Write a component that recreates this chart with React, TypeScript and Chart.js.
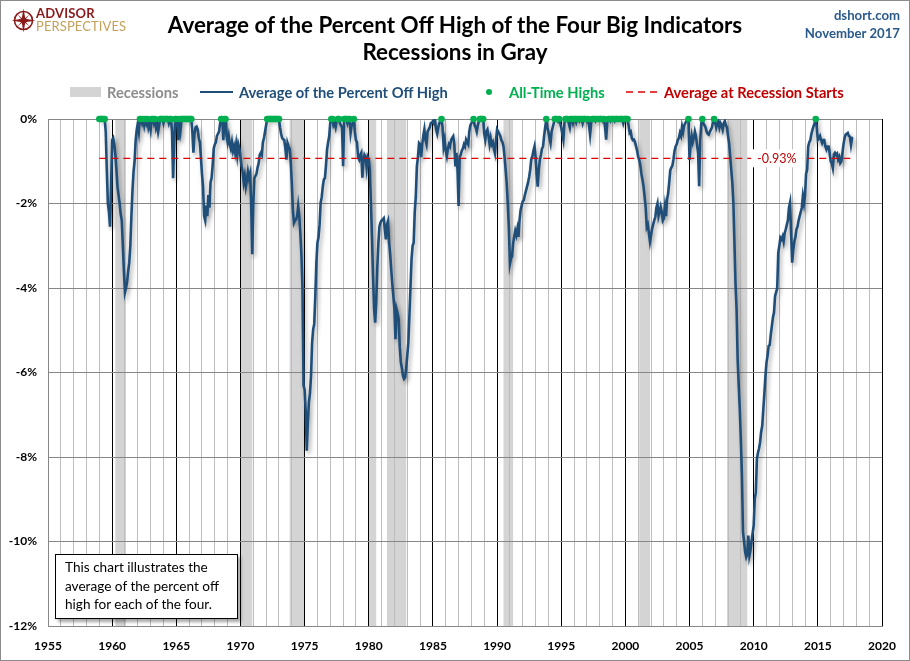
import React, { useEffect, useRef } from "react";
import { Chart, registerables } from "chart.js";

Chart.register(...registerables);

// ---------- data ----------
const startYear = 1959; // first monthly observation: January 1959
// Average of the percent off high of the four big indicators (monthly, %)
const pctOffHigh: number[] = [
  // 1959
  0, 0, 0, 0, 0, 0, -0.3, -1.2, -2.0, -2.2, -2.55, -1.6,
  // 1960
  -0.5, -0.45, -0.6, -0.85, -1.2, -1.6, -1.8, -2.0, -2.25, -2.4, -3.0, -3.6,
  // 1961
  -4.1, -4.0, -3.85, -3.6, -3.4, -3.0, -2.3, -1.7, -1.25, -1.0, -0.5, -0.25,
  // 1962
  -0.1, -0.3, 0, 0, -0.1, 0, -0.15, 0, -0.1, 0, -0.2, -0.1,
  // 1963
  -0.25, 0, 0, -0.1, 0, -0.2, -0.1, -0.3, -0.15, 0, 0, 0,
  // 1964
  -0.1, 0, 0, 0, 0, -0.1, 0, 0, -0.3, -1.4, -0.6, 0,
  // 1965
  0, -0.1, -0.5, 0, -0.25, 0, 0, 0, 0, 0, 0, 0,
  // 1966
  0, 0, 0, -0.3, -0.8, -0.35, -0.2, -0.18, -0.25, -0.45, -0.55, -0.9,
  // 1967
  -1.3, -1.6, -2.3, -2.4, -2.05, -2.3, -1.8, -2.1, -1.5, -1.4, -1.1, -0.7,
  // 1968
  -0.6, -0.55, -0.4, -0.35, -0.3, -0.1, 0, 0, -0.5, 0, 0, -0.4,
  // 1969
  -0.55, -0.4, -0.6, -0.7, -0.55, -0.75, -0.65, -0.8, -0.6, -0.85, -0.6, -0.7,
  // 1970
  -0.9, -1.1, -1.25, -1.5, -1.35, -1.6, -1.45, -1.25, -1.4, -1.3, -2.0, -3.2,
  // 1971
  -2.0, -1.4, -1.35, -1.3, -1.15, -1.05, -0.85, -0.8, -0.85, -0.55, -0.45, -0.3,
  // 1972
  -0.15, 0, 0, 0, 0, 0, 0, 0, 0, 0, 0, 0,
  // 1973
  0, -0.2, -0.35, -0.45, -0.48, -0.5, -0.7, -0.96, -0.57, -0.65, -0.7, -1.0,
  // 1974
  -1.5, -2.14, -2.46, -2.4, -2.38, -2.3, -2.06, -2.3, -2.7, -3.2, -4.0, -6.31,
  // 1975
  -6.4, -6.9, -7.85, -7.2, -6.7, -6.5, -6.08, -5.3, -4.98, -4.85, -4.2, -3.4,
  // 1976
  -2.93, -2.8, -2.5, -1.98, -1.85, -1.6, -1.43, -1.4, -1.1, -0.72, -0.55, -0.41,
  // 1977
  -0.09, 0, 0, -0.15, -0.1, -0.2, -0.05, 0, 0, -0.1, -0.15, -0.2,
  // 1978
  -1.12, 0, 0, 0, -0.1, 0, 0, -0.33, -0.15, -0.1, 0, -0.3,
  // 1979
  -0.5, -0.55, -0.9, -0.96, -0.85, -0.8, -1.39, -1.0, -0.85, -0.9, -1.15, -0.9,
  // 1980
  -0.96, -1.2, -1.98, -2.8, -3.72, -4.5, -4.82, -4.3, -3.5, -2.93, -2.54, -2.45,
  // 1981
  -2.4, -2.38, -2.35, -2.6, -2.85, -2.5, -2.42, -2.9, -3.2, -3.56, -3.9, -4.19,
  // 1982
  -4.5, -5.21, -4.5, -4.6, -4.74, -5.4, -5.76, -5.9, -6.08, -6.15, -6.12, -5.9,
  // 1983
  -5.6, -5.3, -4.66, -4.0, -3.32, -3.0, -2.93, -2.2, -1.83, -1.12, -0.9, -0.57,
  // 1984
  -0.6, -0.9, -0.6, -0.4, -0.25, -0.5, -0.6, -0.3, -0.25, -0.2, -0.1, -0.09,
  // 1985
  -0.05, -0.1, -0.03, -0.25, -0.35, -0.2, -0.1, -0.05, 0, -0.2, -0.65, -0.5,
  // 1986
  -0.75, -0.88, -0.7, -0.6, -0.65, -0.5, -0.45, -0.41, -0.6, -1.12, -0.8, -1.2,
  // 1987
  -2.06, -0.9, -0.85, -0.75, -0.7, -0.6, -0.65, -0.49, -0.55, -0.6, -0.3, -0.15,
  // 1988
  -0.1, -0.05, 0, -0.15, -0.2, -0.3, -0.15, -0.05, 0, 0, 0, 0,
  // 1989
  -0.35, -0.49, -0.3, -0.25, -0.4, -0.6, -0.45, -0.6, -0.55, -0.7, -0.81, -0.5,
  // 1990
  -0.25, -0.3, -0.35, -0.4, -0.5, -0.55, -0.65, -0.9, -1.2, -1.52, -2.0, -2.56,
  // 1991
  -3.43, -3.3, -3.25, -2.95, -2.79, -2.65, -2.75, -2.6, -2.79, -2.4, -2.16, -2.05,
  // 1992
  -1.95, -1.92, -1.8, -1.7, -1.6, -1.5, -1.37, -1.2, -0.95, -0.89, -0.75, -0.65,
  // 1993
  -0.9, -1.3, -1.6, -1.2, -0.97, -0.85, -0.7, -0.65, -0.4, -0.2, 0, -0.2,
  // 1994
  -0.3, -0.45, -0.57, -0.3, -0.2, -0.1, 0, 0, 0, -0.05, 0, -0.1,
  // 1995
  -0.2, -0.35, -0.49, -0.1, 0, 0, 0, -0.1, -0.2, 0, 0, -0.1,
  // 1996
  0, 0, -0.08, 0, 0, -0.05, 0, 0, -0.1, 0, 0, 0,
  // 1997
  -0.05, 0, -0.15, -0.37, -0.1, 0, 0, 0, -0.05, 0, 0, -0.03,
  // 1998
  0, 0, 0, -0.05, 0, -0.2, -0.49, -0.1, 0, 0, -0.05, 0,
  // 1999
  0, 0, -0.05, 0, 0, 0, -0.03, 0, 0, 0, -0.1, 0,
  // 2000
  0, 0, 0, -0.15, -0.33, -0.3, -0.45, -0.5, -0.49, -0.55, -0.65, -0.75,
  // 2001
  -0.9, -0.97, -1.1, -1.3, -1.44, -1.6, -1.84, -2.1, -2.56, -2.5, -2.7, -2.9,
  // 2002
  -2.75, -2.6, -2.5, -2.4, -2.32, -2.1, -2.0, -2.3, -2.2, -2.08, -2.2, -2.4,
  // 2003
  -2.35, -2.08, -2.3, -1.9, -1.76, -1.5, -1.21, -1.15, -1.1, -0.95, -0.75, -0.65,
  // 2004
  -0.6, -0.5, -0.45, -0.33, -0.4, -0.18, -0.3, -0.15, -0.1, -0.05, -0.03, 0,
  // 2005
  -0.97, -0.6, -0.4, -0.55, -0.45, -0.3, -0.41, -0.6, -0.8, -1.59, -0.5, -0.1,
  // 2006
  0, -0.1, -0.15, -0.2, -0.3, -0.35, -0.37, -0.3, -0.25, -0.2, -0.05, 0,
  // 2007
  -0.1, -0.2, -0.1, -0.05, -0.2, -0.1, -0.15, -0.25, -0.1, -0.05, -0.15, -0.2,
  // 2008
  -0.4, -0.57, -0.88, -1.2, -1.5, -1.98, -2.93, -3.9, -4.5, -5.69, -6.3, -6.87,
  // 2009
  -7.6, -8.44, -9.78, -10.0, -10.25, -10.37, -10.3, -9.86, -10.33, -10.2, -10.0, -9.8,
  // 2010
  -9.62, -9.0, -8.83, -8.05, -7.9, -7.8, -7.65, -7.4, -7.26, -6.87, -6.5, -6.08,
  // 2011
  -5.76, -5.6, -5.37, -5.35, -5.1, -4.9, -4.7, -4.58, -4.19, -4.1, -4.0, -3.17,
  // 2012
  -3.0, -2.81, -2.85, -2.78, -2.9, -2.7, -2.61, -2.5, -2.4, -2.1, -1.98, -2.7,
  // 2013
  -3.4, -3.1, -2.9, -2.8, -2.61, -2.55, -2.4, -2.3, -2.2, -2.1, -1.83, -2.0,
  // 2014
  -1.8, -1.3, -1.2, -0.65, -0.55, -0.5, -0.35, -0.25, -0.17, -0.1, 0, -0.2,
  // 2015
  -0.49, -0.45, -0.4, -0.5, -0.57, -0.5, -0.5, -0.65, -0.72, -0.65, -0.65, -0.8,
  // 2016
  -1.0, -1.04, -1.16, -0.84, -0.8, -0.85, -0.82, -0.96, -0.9, -1.04, -1.0, -0.8,
  // 2017
  -0.6, -0.45, -0.37, -0.35, -0.33, -0.4, -0.42, -0.61, -0.45, -0.45,
];

// NBER recessions (start, end) in decimal years
const recessions: [number, number][] = [
  [1960.25, 1961.08],
  [1970.0, 1970.92],
  [1973.83, 1975.0],
  [1980.0, 1980.58],
  [1981.42, 1982.92],
  [1990.5, 1991.25],
  [2001.08, 2001.92],
  [2007.92, 2009.5],
];

const avgAtRecessionStart = -0.93;
const avgLineRange: [number, number] = [1959, 2017.75];
const avgLabelYear = 2011.8;

const xMin = 1955;
const xMax = 2020;
const yMin = -12;
const yMax = 0;

// ---------- colours ----------
const BLUE = "#1f4e79";
const GREEN = "#00b050";
const RED = "#e00000";
const DARKRED = "#c00000";
const BAND = "#d4d4d4";
const FONT = "Lato, 'Open Sans', sans-serif";

const bandPlugin = {
  id: "recessionBands",
  beforeDraw(chart: any) {
    const { ctx, chartArea, scales } = chart;
    ctx.save();
    ctx.fillStyle = BAND;
    for (const [a, b] of recessions) {
      const x1 = scales.x.getPixelForValue(a);
      const x2 = scales.x.getPixelForValue(b);
      ctx.fillRect(x1, chartArea.top, x2 - x1, chartArea.bottom - chartArea.top);
    }
    ctx.restore();
  },
};

const shadowPlugin = {
  id: "lineShadow",
  beforeDatasetDraw(chart: any, args: any) {
    if (args.index === 0) {
      const ctx = chart.ctx;
      ctx.save();
      ctx.shadowColor = "rgba(0,0,0,0.35)";
      ctx.shadowBlur = 4;
      ctx.shadowOffsetX = 2;
      ctx.shadowOffsetY = 3;
    }
  },
  afterDatasetDraw(chart: any, args: any) {
    if (args.index === 0) chart.ctx.restore();
  },
};

const labelPlugin = {
  id: "avgLabel",
  afterDatasetsDraw(chart: any) {
    const { ctx, scales } = chart;
    const x = scales.x.getPixelForValue(avgLabelYear);
    const y = scales.y.getPixelForValue(avgAtRecessionStart);
    const text = avgAtRecessionStart.toFixed(2) + "%";
    ctx.save();
    ctx.font = "12.5px " + FONT;
    const w = ctx.measureText(text).width;
    ctx.fillStyle = "#ffffff";
    ctx.fillRect(x - w / 2 - 6, y - 9, w + 12, 18);
    ctx.fillStyle = DARKRED;
    ctx.textAlign = "center";
    ctx.textBaseline = "middle";
    ctx.fillText(text, x, y + 0.5);
    ctx.restore();
  },
};

function ChartCanvas() {
  const ref = useRef<HTMLCanvasElement | null>(null);
  useEffect(() => {
    if (!ref.current) return;
    Chart.defaults.font.family = FONT;
    const lineData = pctOffHigh.map((v, i) => ({ x: startYear + i / 12, y: v }));
    const highs = lineData.filter((p) => p.y === 0);
    const tickFont = { family: FONT, size: 12, weight: "bold" as const };
    const chart = new Chart(ref.current, {
      type: "line",
      data: {
        datasets: [
          {
            label: "Average of the Percent Off High",
            data: lineData,
            borderColor: BLUE,
            borderWidth: 2.6,
            pointRadius: 0,
            tension: 0,
            order: 2,
          } as any,
          {
            label: "Average at Recession Starts",
            data: avgLineRange.map((x) => ({ x, y: avgAtRecessionStart })),
            borderColor: RED,
            borderWidth: 1.3,
            borderDash: [7, 5],
            pointRadius: 0,
            order: 1,
          },
          {
            label: "All-Time Highs",
            type: "scatter",
            data: highs,
            backgroundColor: GREEN,
            borderColor: GREEN,
            borderWidth: 0,
            pointRadius: 3.3,
            showLine: false,
            clip: false,
            order: 0,
          } as any,
        ],
      },
      options: {
        responsive: false,
        animation: false,
        layout: { padding: { top: 119, right: 28, left: 0, bottom: 0 } },
        plugins: {
          legend: { display: false },
          tooltip: { enabled: false },
          title: { display: false },
        },
        scales: {
          x: {
            type: "linear",
            min: xMin,
            max: xMax,
            afterFit: (s: any) => {
              s.height = 35;
            },
            ticks: {
              stepSize: 1,
              autoSkip: false,
              maxRotation: 0,
              minRotation: 0,
              padding: 13,
              color: "#000",
              font: tickFont,
              callback: (v: any) => {
                const r = Math.round(Number(v));
                return r % 5 === 0 ? String(r) : "";
              },
            },
            grid: {
              drawTicks: false,
              lineWidth: 1,
              color: (c: any) => {
                const r = Math.round(c.tick?.value ?? 0);
                if (r === xMin) return "#a0a0a0";
                return r % 5 === 0 ? "#000000" : "#bdbdbd";
              },
            },
            border: { color: "#878787" },
          },
          y: {
            min: yMin,
            max: yMax,
            afterFit: (s: any) => {
              s.width = 48;
            },
            ticks: {
              stepSize: 2,
              padding: 11,
              color: "#000",
              font: tickFont,
              callback: (v: any) => Math.round(Number(v)) + "%",
            },
            grid: { drawTicks: false, color: "#878787", lineWidth: 1 },
            border: { color: "#878787" },
          },
        },
      },
      plugins: [bandPlugin, shadowPlugin, labelPlugin],
    });
    return () => chart.destroy();
  }, []);
  return (
    <canvas
      ref={ref}
      width={910}
      height={661}
      style={{ position: "absolute", left: 0, top: 0, width: 910, height: 661 }}
    />
  );
}

const abs = (s: React.CSSProperties): React.CSSProperties => ({ position: "absolute", ...s });

export default function App() {
  const legendText: React.CSSProperties = {
    fontFamily: FONT,
    fontWeight: 700,
    fontSize: 14.7,
    lineHeight: "16px",
    whiteSpace: "nowrap",
  };
  return (
    <div
      style={{
        position: "absolute",
        left: 0,
        top: 0,
        width: 910,
        height: 661,
        background: "#ffffff",
        overflow: "hidden",
        fontFamily: FONT,
      }}
    >
      <ChartCanvas />
      {/* outer frame */}
      <div style={abs({ left: 0, top: 0, width: 910, height: 661, boxSizing: "border-box", border: "1px solid #8c8c8c", pointerEvents: "none" })} />

      {/* logo */}
      <svg style={abs({ left: 11, top: 8 })} width={25} height={25} viewBox="0 0 25 25">
        <circle cx={12.5} cy={12.5} r={9} fill="none" stroke="#8b1a1a" strokeWidth={1.6} />
        <polygon points="12.5,0.5 14.3,10.7 24.5,12.5 14.3,14.3 12.5,24.5 10.7,14.3 0.5,12.5 10.7,10.7" fill="#8b1a1a" />
        <polygon points="18.5,6.5 13.6,12.5 18.5,18.5 12.5,13.6 6.5,18.5 11.4,12.5 6.5,6.5 12.5,11.4" fill="#8b1a1a" />
      </svg>
      <div style={abs({ left: 36, top: 7, fontSize: 13, fontWeight: 700, color: "#8b1a1a", lineHeight: "13px", letterSpacing: 0.2 })}>ADVISOR</div>
      <div style={abs({ left: 36, top: 19, fontSize: 13, fontWeight: 400, color: "#c4a05a", lineHeight: "14px", letterSpacing: 0.1 })}>PERSPECTIVES</div>

      {/* title */}
      <div style={abs({ left: 0, top: 11, width: 910, textAlign: "center", fontSize: 22.4, fontWeight: 700, color: "#000", lineHeight: "27px" })}>
        Average of the Percent Off High of the Four Big Indicators
      </div>
      <div style={abs({ left: 0, top: 38, width: 910, textAlign: "center", fontSize: 22.4, fontWeight: 700, color: "#000", lineHeight: "27px" })}>
        Recessions in Gray
      </div>

      {/* source */}
      <div style={abs({ right: 10, top: 6, textAlign: "right", fontSize: 13.2, fontWeight: 700, color: "#2a5a8c", lineHeight: "18px" })}>
        dshort.com
        <br />
        November 2017
      </div>

      {/* legend */}
      <div style={abs({ left: 70, top: 87, width: 31, height: 10, background: BAND })} />
      <div style={abs({ ...legendText, left: 107, top: 84, color: "#8c8c8c" })}>Recessions</div>
      <div style={abs({ left: 200, top: 90.5, width: 33, height: 2.5, background: BLUE })} />
      <div style={abs({ ...legendText, left: 239, top: 84, color: BLUE })}>Average of the Percent Off High</div>
      <div style={abs({ left: 486, top: 89, width: 6, height: 6, borderRadius: 3, background: GREEN })} />
      <div style={abs({ ...legendText, left: 509, top: 84, color: GREEN })}>All-Time Highs</div>
      <svg style={abs({ left: 626, top: 88 })} width={35} height={8}>
        <line x1={0} y1={4} x2={35} y2={4} stroke={RED} strokeWidth={1.3} strokeDasharray="7,5" />
      </svg>
      <div style={abs({ ...legendText, left: 664, top: 84, color: DARKRED })}>Average at Recession Starts</div>

      {/* note box */}
      <div
        style={abs({
          left: 55,
          top: 554,
          width: 183,
          height: 65,
          boxSizing: "border-box",
          border: "1px solid #000",
          background: "#fff",
          boxShadow: "3px 3px 3px rgba(0,0,0,0.35)",
          padding: "3px 0 0 9px",
          fontSize: 13.6,
          lineHeight: "18.5px",
          color: "#000",
          whiteSpace: "nowrap",
        })}
      >
        This chart illustrates the
        <br />
        average of the percent off
        <br />
        high for each of the four.
      </div>
    </div>
  );
}
